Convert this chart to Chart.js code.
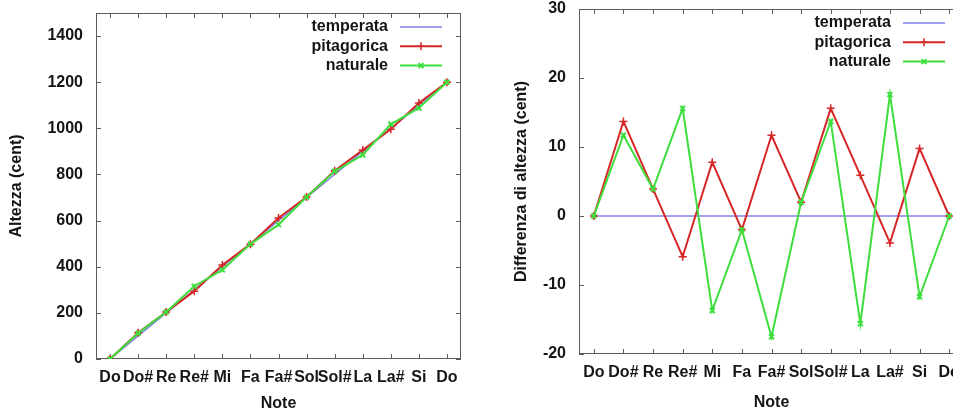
<!DOCTYPE html>
<html>
<head>
<meta charset="utf-8">
<script src="https://cdn.jsdelivr.net/npm/chart.js@4.4.1/dist/chart.umd.min.js"></script>
<style>
  html, body { margin: 0; padding: 0; background: #fff; overflow: hidden; }
  #wrap { position: relative; width: 953px; height: 410px; overflow: hidden; }
  .box { position: absolute; top: 0; }
</style>
</head>
<body>
<div id="wrap">
  <div class="box" style="left:0"><canvas id="altezza" width="480" height="420"></canvas></div>
  <div class="box" style="left:480px"><canvas id="differenza" width="500" height="420"></canvas></div>
</div>
<script>
// note della scala
const notes = ['Do', 'Do#', 'Re', 'Re#', 'Mi', 'Fa', 'Fa#', 'Sol', 'Sol#', 'La', 'La#', 'Si', 'Do'];

// altezza in cent
const temperata  = [0, 100, 200, 300, 400, 500, 600, 700, 800, 900, 1000, 1100, 1200];
const pitagorica = [0, 113.7, 203.9, 294.1, 407.8, 498.0, 611.7, 702.0, 815.6, 905.9, 996.1, 1109.8, 1200];
const naturale   = [0, 111.7, 203.9, 315.6, 386.3, 498.0, 582.5, 702.0, 813.7, 884.4, 1017.6, 1088.3, 1200];

// differenza rispetto alla temperata
const diffTemperata  = [0, 0, 0, 0, 0, 0, 0, 0, 0, 0, 0, 0, 0];
const diffPitagorica = [0, 13.7, 3.9, -5.9, 7.8, -2.0, 11.7, 2.0, 15.6, 5.9, -3.9, 9.8, 0];
const diffNaturale   = [0, 11.7, 3.9, 15.6, -13.7, -2.0, -17.5, 2.0, 13.7, -15.6, 17.6, -11.7, 0];

const FONT = { family: '"Liberation Sans", Arial, sans-serif', size: 16, weight: 'bold' };
const TEXT = '#151515';
const BLUE = 'rgb(130,130,230)';
const RED = 'rgb(214,38,38)';
const GREEN = 'rgb(62,222,62)';

// gnuplot style border with ticks pointing inward on all sides
const framePlugin = {
  id: 'frame',
  beforeDatasetsDraw(chart) {
    const { ctx, chartArea: a, scales: { x, y } } = chart;
    ctx.save();
    ctx.strokeStyle = '#5c5c5c';
    ctx.lineWidth = 1;
    ctx.strokeRect(a.left + 0.5, a.top + 0.5, a.width - 1, a.height - 1);
    ctx.beginPath();
    x.ticks.forEach((t, i) => {
      const px = Math.round(x.getPixelForTick(i)) + 0.5;
      ctx.moveTo(px, a.bottom); ctx.lineTo(px, a.bottom - 5);
      ctx.moveTo(px, a.top); ctx.lineTo(px, a.top + 5);
    });
    y.ticks.forEach((t, i) => {
      const py = Math.round(y.getPixelForTick(i)) + 0.5;
      ctx.moveTo(a.left, py); ctx.lineTo(a.left + 5, py);
      ctx.moveTo(a.right, py); ctx.lineTo(a.right - 5, py);
    });
    ctx.stroke();
    ctx.restore();
  }
};

// legenda in alto a destra, testo allineato a destra come in gnuplot
const keyPlugin = {
  id: 'gnuKey',
  afterDatasetsDraw(chart) {
    const { ctx, chartArea: a } = chart;
    ctx.save();
    ctx.font = 'bold 16px "Liberation Sans", Arial, sans-serif';
    ctx.textAlign = 'right';
    ctx.textBaseline = 'middle';
    chart.data.datasets.forEach((ds, i) => {
      const yy = a.top + 14 + i * 19.3;
      ctx.fillStyle = TEXT;
      ctx.fillText(ds.label, a.right - 73, yy);
      ctx.strokeStyle = ds.borderColor;
      ctx.lineWidth = ds.borderWidth;
      ctx.beginPath();
      ctx.moveTo(a.right - 61, yy);
      ctx.lineTo(a.right - 19, yy);
      ctx.stroke();
      if (ds.pointRadius > 0) {
        ctx.lineWidth = ds.pointBorderWidth;
        Chart.helpers.drawPoint(ctx, { pointStyle: ds.pointStyle, radius: ds.pointRadius, rotation: 0, borderWidth: ds.pointBorderWidth }, a.right - 40, yy);
      }
    });
    ctx.restore();
  }
};

function series(t, p, n) {
  return [
    { label: 'temperata', data: t, borderColor: BLUE, backgroundColor: BLUE, borderWidth: 1.5, pointRadius: 0, order: 3 },
    { label: 'pitagorica', data: p, borderColor: RED, backgroundColor: RED, borderWidth: 2, pointStyle: 'cross', pointRadius: 4, pointBorderWidth: 1.5, order: 2 },
    { label: 'naturale', data: n, borderColor: GREEN, backgroundColor: GREEN, borderWidth: 2, pointStyle: 'crossRot', pointRadius: 3.5, pointBorderWidth: 2, order: 1 }
  ];
}

function makeChart(id, datasets, o) {
  return new Chart(document.getElementById(id), {
    type: 'line',
    data: { labels: notes, datasets: datasets },
    options: {
      responsive: false,
      animation: false,
      layout: { padding: { top: o.top, right: o.right, left: 0, bottom: 0 } },
      plugins: { legend: { display: false }, tooltip: { enabled: false } },
      scales: {
        x: {
          offset: true,
          grid: { display: false, drawTicks: false },
          border: { display: false },
          ticks: { font: FONT, color: TEXT, autoSkip: false, maxRotation: 0, padding: 9 },
          title: { display: true, text: 'Note', font: FONT, color: TEXT, padding: { top: 0, bottom: o.notePad } },
          afterFit: s => { s.height = o.xHeight; s.paddingLeft = 0; s.paddingRight = 0; }
        },
        y: {
          min: o.min, max: o.max,
          grid: { display: false, drawTicks: false },
          border: { display: false },
          ticks: { stepSize: o.step, includeBounds: false, font: FONT, color: TEXT, padding: 13, callback: v => String(v) },
          title: { display: true, text: o.yTitle, font: FONT, color: TEXT, padding: { top: o.titlePad, bottom: 0 } },
          afterFit: s => { s.width = o.yWidth; s.paddingTop = 0; s.paddingBottom = 0; }
        }
      }
    },
    plugins: [framePlugin, keyPlugin]
  });
}

makeChart('altezza', series(temperata, pitagorica, naturale), {
  top: 13, right: 19, xHeight: 61, yWidth: 96, min: 0, max: 1500, step: 200,
  yTitle: 'Altezza (cent)', titlePad: 7, notePad: 7
});

makeChart('differenza', series(diffTemperata, diffPitagorica, diffNaturale), {
  top: 9, right: 16, xHeight: 66, yWidth: 99, min: -20, max: 30, step: 10,
  yTitle: 'Differenza di altezza (cent)', titlePad: 32, notePad: 8
});
</script>
</body>
</html>
